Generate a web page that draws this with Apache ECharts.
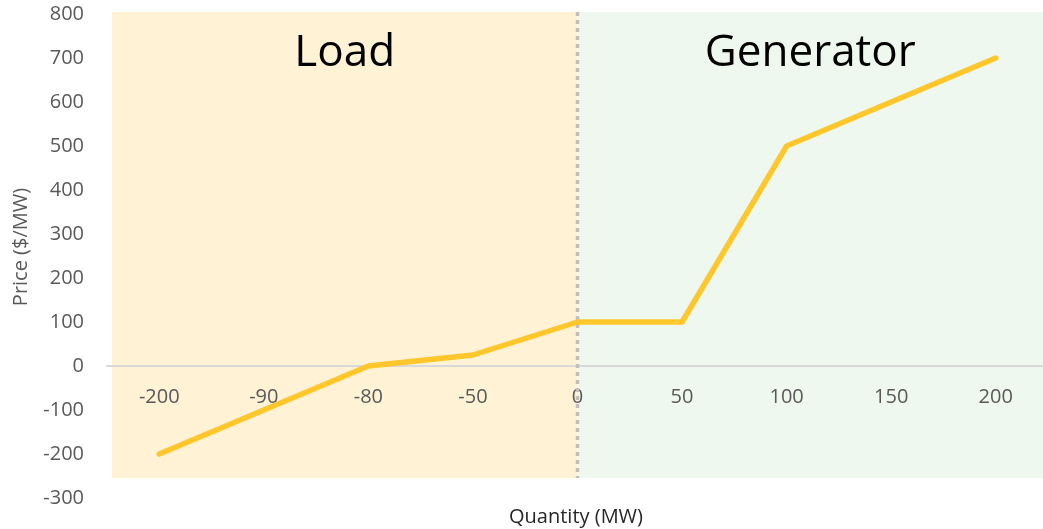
<!DOCTYPE html>
<html>
<head>
<meta charset="utf-8">
<script src="https://cdn.jsdelivr.net/npm/echarts@6/dist/echarts.min.js"></script>
<style>
  html, body { margin: 0; padding: 0; background: #ffffff; }
  #chart { width: 1043px; height: 529px; }
</style>
</head>
<body>
<div id="chart"></div>
<script>
// Offer curve: quantity (MW) categories and price ($/MW) at each step
const quantities = ['-200', '-90', '-80', '-50', '0', '50', '100', '150', '200'];
const prices = [-200, -100, 0, 25, 100, 100, 500, 600, 700];
const priceTicks = { min: -300, max: 800, step: 100 };
const sideLabels = ['Load', 'Generator'];
const axisTitles = { x: 'Quantity (MW)', y: 'Price ($/MW)' };

const FONT = '"Open Sans", "Noto Sans", sans-serif';
const GRID = { left: 107, top: 14, width: 941, height: 484 };
// Lift the category axis from the grid bottom up to the price = 0 level
const zeroOffset = -GRID.height * (0 - priceTicks.min) / (priceTicks.max - priceTicks.min);

const chart = echarts.init(document.getElementById('chart'), null, { renderer: 'canvas' });

chart.setOption({
  animation: false,
  backgroundColor: '#ffffff',
  grid: Object.assign({ outerBoundsMode: 'none', containLabel: false }, GRID),
  xAxis: {
    type: 'category',
    data: quantities,
    boundaryGap: true,
    offset: zeroOffset,
    axisLine: { onZero: false, lineStyle: { color: '#d9d9d9', width: 2 } },
    axisTick: { show: false },
    axisLabel: { color: '#595959', fontSize: 20, fontFamily: FONT, margin: 21, interval: 0 },
    splitLine: { show: false },
    z: 3
  },
  yAxis: {
    type: 'value',
    min: priceTicks.min,
    max: priceTicks.max,
    interval: priceTicks.step,
    axisLine: { show: false },
    axisTick: { show: false },
    splitLine: { show: false },
    axisLabel: { color: '#595959', fontSize: 20, fontFamily: FONT, margin: 23 }
  },
  series: [{
    type: 'line',
    data: prices,
    symbol: 'none',
    z: 5,
    lineStyle: { color: '#FFC72C', width: 5.5, cap: 'round', join: 'round' }
  }]
});

// Shaded load / generator zones split at zero quantity, plus titles
const splitX = chart.convertToPixel({ xAxisIndex: 0 }, '0');
const zoneLeft = 112, zoneRight = 1043, zoneTop = 12, zoneBottom = 478;

chart.setOption({
  graphic: [
    { type: 'rect', z: -10, silent: true,
      shape: { x: zoneLeft, y: zoneTop, width: splitX - zoneLeft, height: zoneBottom - zoneTop },
      style: { fill: '#FFF2D5' } },
    { type: 'rect', z: -10, silent: true,
      shape: { x: splitX, y: zoneTop, width: zoneRight - splitX, height: zoneBottom - zoneTop },
      style: { fill: '#EEF8EE' } },
    { type: 'line', z: 4, silent: true,
      shape: { x1: splitX, y1: zoneTop, x2: splitX, y2: zoneBottom },
      style: { stroke: '#BFBFBF', lineWidth: 3.5, lineDash: [4, 4] } },
    { type: 'text', z: 6, silent: true,
      x: (zoneLeft + splitX) / 2, y: 53,
      style: { text: sideLabels[0], fill: '#000000', font: '44px ' + FONT, align: 'center', verticalAlign: 'middle' } },
    { type: 'text', z: 6, silent: true,
      x: (splitX + zoneRight) / 2, y: 53,
      style: { text: sideLabels[1], fill: '#000000', font: '44px ' + FONT, align: 'center', verticalAlign: 'middle' } },
    { type: 'text', z: 6, silent: true,
      x: 576, y: 517,
      style: { text: axisTitles.x, fill: '#262626', font: '20px ' + FONT, align: 'center', verticalAlign: 'middle' } },
    { type: 'text', z: 6, silent: true,
      x: 21, y: 247, rotation: Math.PI / 2,
      style: { text: axisTitles.y, fill: '#595959', font: '20px ' + FONT, align: 'center', verticalAlign: 'middle' } }
  ]
});
</script>
</body>
</html>
